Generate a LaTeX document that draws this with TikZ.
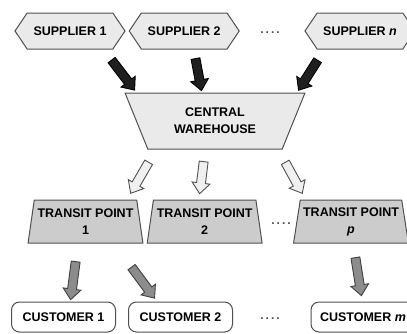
\documentclass[tikz,border=0pt]{standalone}
\usepackage{fontspec}
\setmainfont{Liberation Sans}
\usepackage{xcolor}
\usepackage{tikz}
\usetikzlibrary{positioning,shapes.geometric,shapes.symbols,shapes.arrows,calc}
\definecolor{boxgray}{RGB}{234,234,234}
\definecolor{tpgray}{RGB}{204,204,204}
\definecolor{linegray}{RGB}{80,80,80}
\tikzset{
  lbl/.style={font=\bfseries\fontsize{12.5}{17}\selectfont, align=center, text=black},
  supplier/.style={signal, signal to=west and east, signal pointer angle=112,
                   draw=linegray, line width=1pt, fill=boxgray,
                   minimum width=110, minimum height=36, inner sep=1pt, lbl},
  depot/.style={trapezium, trapezium left angle=63, trapezium right angle=63,
                trapezium stretches=true, shape border rotate=180,
                draw=linegray, line width=1pt, fill=boxgray,
                minimum width=180, minimum height=56, inner sep=1pt, lbl},
  transit/.style={trapezium, trapezium left angle=78, trapezium right angle=78,
                  trapezium stretches=true,
                  draw=linegray, line width=1pt, fill=tpgray,
                  minimum width=115, minimum height=43, inner sep=1pt, lbl},
  customer/.style={rectangle, rounded corners=8pt, draw=linegray, line width=1pt,
                   fill=white, minimum width=104, minimum height=30, inner sep=1pt, lbl},
  dots/.style={font=\bfseries\fontsize{12}{14}\selectfont, text=black!70},
  fat/.style={single arrow, single arrow head extend=4.5pt, single arrow tip angle=80,
              inner sep=4pt, minimum width=17pt, line width=0.9pt},
  inflow/.style={fat, draw=black, fill=black!88},
  outflow/.style={fat, draw=linegray, fill=black!6},
  delivery/.style={fat, draw=black!75, fill=black!45},
}
% block arrow between two named points
\newcommand{\fatarrow}[3]{%
  \path let \p1=($(#3)-(#2)$), \n1={atan2(\y1,\x1)}, \n2={veclen(\x1,\y1)} in
    node[#1, minimum height=\n2, rotate=\n1] at ($(#2)!0.5!(#3)$) {};}

\begin{document}
\begin{tikzpicture}[x=1pt,y=-1pt]
  \clip (0,0) rectangle (407,333);
  % suppliers
  \node[supplier] (sup1) at (70,31) {SUPPLIER 1};
  \node[supplier, right=3pt of sup1] (sup2) {SUPPLIER 2};
  \node[supplier] (supn) at (360,31) {SUPPLIER \textit{n}};
  \node[dots] (supdots) at (270,33) {.\,.\,.\,.};
  % warehouse
  \node[depot] (cw) at (215,121) {CENTRAL\\WAREHOUSE};
  % transit points
  \node[transit] (tp1) at (85.5,221.5) {TRANSIT POINT\\1};
  \node[transit, right=9.5pt of tp1] (tp2) {TRANSIT POINT\\2};
  \node[transit] (tpp) at (351,221.5) {TRANSIT POINT\\\textit{p}};
  \node[dots] (tpdots) at (281,224) {.\,.\,.\,.};
  % customers
  \node[customer] (cu1) at (63.5,317) {CUSTOMER 1};
  \node[customer, right=12pt of cu1] (cu2) {CUSTOMER 2};
  \node[customer] (cum) at (363,317) {CUSTOMER \textit{m}};
  \node[dots] (cudots) at (270,319) {.\,.\,.\,.};

  % arrow ends
  \coordinate (a1) at (110,58);  \coordinate (b1) at (133,88);
  \coordinate (a2) at (195,56);  \coordinate (b2) at (201,88);
  \coordinate (a3) at (319,58);  \coordinate (b3) at (300,88);
  \coordinate (c1) at (150,160); \coordinate (d1) at (132,191);
  \coordinate (c2) at (204,159); \coordinate (d2) at (200,191);
  \coordinate (c3) at (284,160); \coordinate (d3) at (301,191);
  \coordinate (e1) at (76,259);  \coordinate (f1) at (71,297);
  \coordinate (e2) at (130,265); \coordinate (f2) at (153,296);
  \coordinate (e3) at (355,255); \coordinate (f3) at (361,293);

  \fatarrow{inflow}{a1}{b1}
  \fatarrow{inflow}{a2}{b2}
  \fatarrow{inflow}{a3}{b3}
  \fatarrow{outflow}{c1}{d1}
  \fatarrow{outflow}{c2}{d2}
  \fatarrow{outflow}{c3}{d3}
  \fatarrow{delivery}{e1}{f1}
  \fatarrow{delivery}{e2}{f2}
  \fatarrow{delivery}{e3}{f3}
\end{tikzpicture}
\end{document}
